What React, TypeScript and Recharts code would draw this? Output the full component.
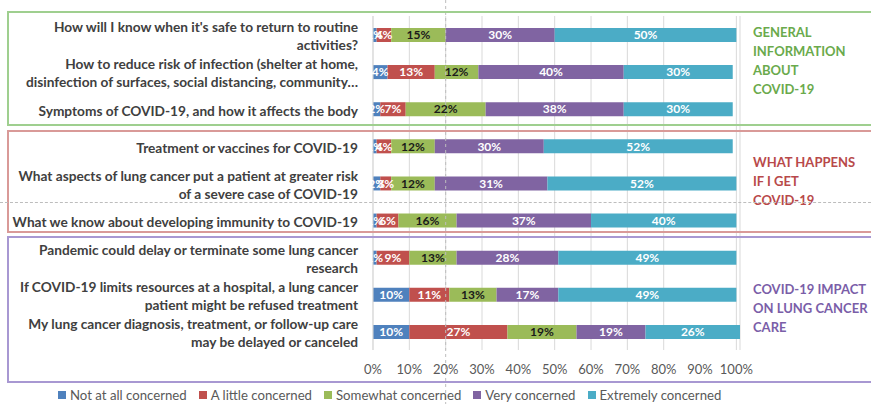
import { BarChart, Bar, XAxis, YAxis, CartesianGrid, Legend, LabelList, ReferenceLine } from 'recharts'

// Questions, top to bottom (split into the lines they show on the axis)
const questions: string[][] = [
  ["How will I know when it's safe to return to routine", 'activities?'],
  ['How to reduce risk of infection (shelter at home,', 'disinfection of surfaces, social distancing, community…'],
  ['Symptoms of COVID-19, and how it affects the body'],
  ['Treatment or vaccines for COVID-19'],
  ['What aspects of lung cancer put a patient at greater risk', 'of a severe case of COVID-19'],
  ['What we know about developing immunity to COVID-19'],
  ['Pandemic could delay or terminate some lung cancer', 'research'],
  ['If COVID-19 limits resources at a hospital, a lung cancer', 'patient might be refused treatment'],
  ['My lung cancer diagnosis, treatment, or follow-up care', 'may be delayed or canceled'],
]

const notAtAll = [1, 4, 2, 1, 2, 1, 1, 10, 10]
const aLittle = [4, 13, 7, 4, 3, 6, 9, 11, 27]
const somewhat = [15, 12, 22, 12, 12, 16, 13, 13, 19]
const very = [30, 40, 38, 30, 31, 37, 28, 17, 19]
const extremely = [50, 30, 30, 52, 52, 40, 49, 49, 26]

const xTicks = [0, 10, 20, 30, 40, 50, 60, 70, 80, 90, 100]

const series = [
  { key: 'notAtAll', name: 'Not at all concerned', color: '#4f81bd', text: '#ffffff' },
  { key: 'aLittle', name: 'A little concerned', color: '#c0504d', text: '#ffffff' },
  { key: 'somewhat', name: 'Somewhat concerned', color: '#9bbb59', text: '#1a1a1a' },
  { key: 'very', name: 'Very concerned', color: '#8064a2', text: '#ffffff' },
  { key: 'extremely', name: 'Extremely concerned', color: '#4bacc6', text: '#ffffff' },
]

const sections = [
  { lines: ['GENERAL', 'INFORMATION', 'ABOUT', 'COVID-19'], color: '#6aaa4c', border: '#9fcf8f', top: 11, height: 115, textTop: 23 },
  { lines: ['WHAT HAPPENS', 'IF I GET', 'COVID-19'], color: '#b8494a', border: '#d99a98', top: 130, height: 103, textTop: 153 },
  { lines: ['COVID-19 IMPACT', 'ON LUNG CANCER', 'CARE'], color: '#7a5ea8', border: '#a898d2', top: 236, height: 147, textTop: 280 },
]

const data = questions.map((q, i) => ({
  name: q.join(' '),
  notAtAll: notAtAll[i],
  aLittle: aLittle[i],
  somewhat: somewhat[i],
  very: very[i],
  extremely: extremely[i],
}))

const linesByName: Record<string, string[]> = {}
questions.forEach((q) => (linesByName[q.join(' ')] = q))

const FONT = 'Lato, "Open Sans", sans-serif'

// multi-line, right aligned question label
function QuestionTick({ x, y, payload }: any) {
  const lines = linesByName[payload.value] ?? [payload.value]
  const lh = 18
  const start = y + 2 - ((lines.length - 1) * lh) / 2
  return (
    <text x={x} y={start} textAnchor="end" fill="#404040" fontSize={13.7} fontWeight={700} fontFamily={FONT}>
      {lines.map((l, i) => (
        <tspan key={i} x={x} y={start + i * lh} dy="0.35em">
          {l}
        </tspan>
      ))}
    </text>
  )
}

function LegendRow() {
  return (
    <div style={{ display: 'flex', gap: 12, paddingLeft: 58, paddingTop: 3, fontFamily: FONT, fontSize: 13.2, color: '#595959' }}>
      {series.map((s) => (
        <div key={s.key} style={{ display: 'flex', alignItems: 'center' }}>
          <span style={{ width: 8, height: 8, background: s.color, marginRight: 4, display: 'inline-block' }} />
          {s.name}
        </div>
      ))}
    </div>
  )
}

// the dashed 20% guide runs the full height of the picture
function FullHeightLine({ x1, x2 }: any) {
  return <line x1={x1} x2={x2} y1={0} y2={404} stroke="#bdbdbd" strokeWidth={1} strokeDasharray="3 3" />
}

export default function App() {
  return (
    <div style={{ position: 'relative', width: 871, height: 404, background: '#fff', overflow: 'hidden' }}>
      <style>{'body{margin:0}'}</style>
      <BarChart
        width={871}
        height={404}
        data={data}
        layout="vertical"
        barSize={14}
        margin={{ top: 16, right: 131, bottom: 0, left: 0 }}
      >
        <CartesianGrid horizontal={false} stroke="#d9d9d9" />
        <XAxis
          type="number"
          domain={[0, 100]}
          ticks={xTicks}
          tickFormatter={(v) => `${v}%`}
          axisLine={false}
          tickLine={false}
          tickSize={0}
          tickMargin={15}
          height={34}
          tick={{ fill: '#595959', fontSize: 13, fontFamily: FONT }}
        />
        <YAxis
          type="category"
          dataKey="name"
          width={373}
          axisLine={{ stroke: '#d9d9d9' }}
          tickLine={false}
          tickSize={0}
          tickMargin={15}
          tick={<QuestionTick />}
          interval={0}
        />
        <ReferenceLine x={20} shape={<FullHeightLine />} />
        {series.map((s) => (
          <Bar key={s.key} dataKey={s.key} name={s.name} stackId="a" fill={s.color} isAnimationActive={false}>
            <LabelList
              dataKey={s.key}
              position="center"
              formatter={(v: any) => `${v}%`}
              fill={s.text}
              fontSize={12}
              fontWeight={700}
              fontFamily={FONT}
            />
          </Bar>
        ))}
        <Legend verticalAlign="bottom" height={20} content={<LegendRow />} wrapperStyle={{ left: 0, width: 871 }} />
      </BarChart>

      {/* section boxes and their titles */}
      {sections.map((s, i) => (
        <div key={i}>
          <div
            style={{
              position: 'absolute',
              left: 7,
              top: s.top,
              width: 880,
              height: s.height,
              border: `2px solid ${s.border}`,
              boxSizing: 'border-box',
              pointerEvents: 'none',
            }}
          />
          <div
            style={{
              position: 'absolute',
              left: 753,
              top: s.textTop,
              color: s.color,
              fontFamily: FONT,
              fontWeight: 700,
              fontSize: 13,
              lineHeight: '19px',
              whiteSpace: 'nowrap',
            }}
          >
            {s.lines.map((l) => (
              <div key={l}>{l}</div>
            ))}
          </div>
        </div>
      ))}
      <div style={{ position: 'absolute', left: 0, top: 202, width: 871, borderTop: '1px dashed #bdbdbd' }} />
    </div>
  )
}
